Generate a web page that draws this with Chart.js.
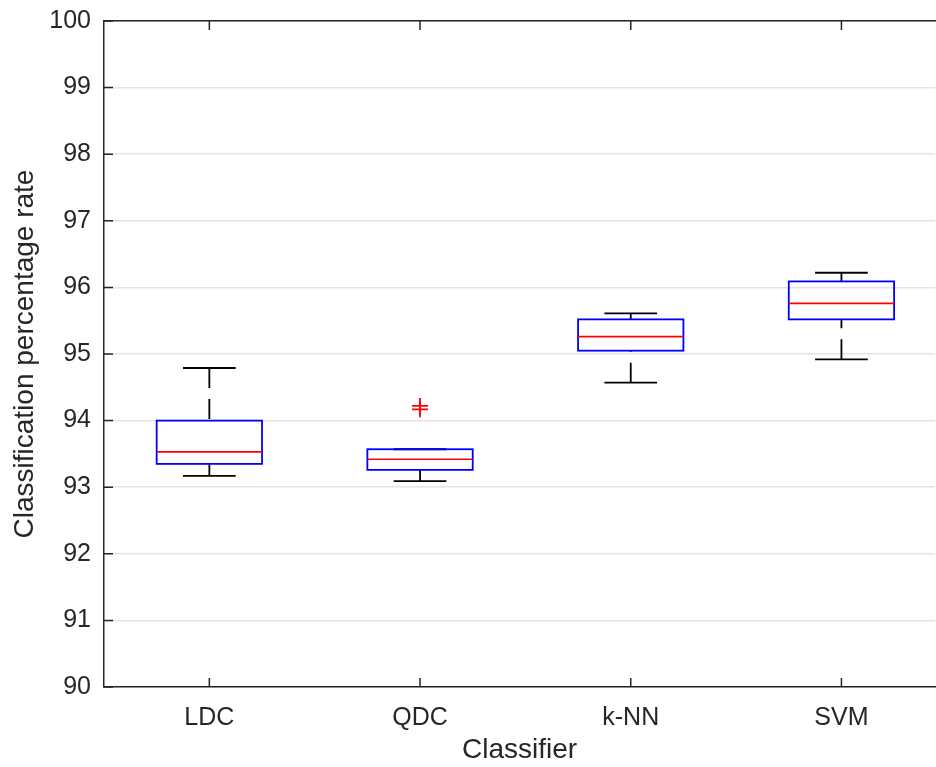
<!DOCTYPE html>
<html>
<head>
<meta charset="utf-8">
<script src="https://cdn.jsdelivr.net/npm/chart.js@4.4.0/dist/chart.umd.min.js"></script>
<style>
  html, body { margin: 0; padding: 0; background: #fff; overflow: hidden; }
  body { width: 936px; height: 767px; position: relative; }
  /* lienzo algo mayor que la ventana: el eje derecho queda fuera, como en la figura */
  #wrap { width: 945px; height: 774px; position: absolute; left: 0; top: -7px; }
</style>
</head>
<body>
<div id="wrap"><canvas id="boxStats"></canvas></div>
<script>
const categorias = ['LDC', 'QDC', 'k-NN', 'SVM'];
const bigoteBajo = [93.17, 93.09, 94.57, 94.92];
const cuartil1 = [93.35, 93.26, 95.05, 95.52];
const mediana = [93.53, 93.42, 95.26, 95.76];
const cuartil3 = [94.00, 93.57, 95.52, 96.09];
const bigoteAlto = [94.79, 93.57, 95.61, 96.22];
const atipicosX = [2, 2];
const atipicosY = [94.22, 94.17];
const ticksY = [90, 91, 92, 93, 94, 95, 96, 97, 98, 99, 100];

const ejeColor = '#262626';

// dibuja cajas, medianas, bigotes y marcas de eje hacia dentro
const cajasPlugin = {
    id: 'cajas',
    beforeDatasetsDraw(chart) {
        const { ctx, scales: { x, y } } = chart;
        ctx.save();
        categorias.forEach((c, i) => {
            const cx = x.getPixelForValue(i + 1);
            const half = x.getPixelForValue(i + 1.25) - cx;
            const capHalf = x.getPixelForValue(i + 1.125) - cx;
            const yq1 = y.getPixelForValue(cuartil1[i]);
            const yq3 = y.getPixelForValue(cuartil3[i]);
            const ymed = y.getPixelForValue(mediana[i]);
            const ylo = y.getPixelForValue(bigoteBajo[i]);
            const yhi = y.getPixelForValue(bigoteAlto[i]);

            // bigotes (desde el tope hacia la caja)
            ctx.strokeStyle = '#000';
            ctx.lineWidth = 1.8;
            ctx.setLineDash([20, 11]);
            ctx.beginPath();
            ctx.moveTo(cx, yhi); ctx.lineTo(cx, yq3);
            ctx.stroke();
            ctx.beginPath();
            ctx.moveTo(cx, ylo); ctx.lineTo(cx, yq1);
            ctx.stroke();
            ctx.setLineDash([]);
            ctx.beginPath();
            ctx.moveTo(cx - capHalf, yhi); ctx.lineTo(cx + capHalf, yhi);
            ctx.moveTo(cx - capHalf, ylo); ctx.lineTo(cx + capHalf, ylo);
            ctx.stroke();

            // caja
            ctx.strokeStyle = '#0000ff';
            ctx.lineWidth = 1.8;
            ctx.strokeRect(cx - half, yq3, half * 2, yq1 - yq3);

            // mediana
            ctx.strokeStyle = '#ff0000';
            ctx.lineWidth = 1.7;
            ctx.beginPath();
            ctx.moveTo(cx - half, ymed); ctx.lineTo(cx + half, ymed);
            ctx.stroke();
        });
        ctx.restore();
    },
    afterDraw(chart) {
        const { ctx, chartArea: a, scales: { x, y } } = chart;
        ctx.save();
        ctx.strokeStyle = ejeColor;
        ctx.lineWidth = 1.5;
        ctx.beginPath();
        ticksY.forEach(v => {
            const py = y.getPixelForValue(v);
            ctx.moveTo(a.left, py); ctx.lineTo(a.left + 9, py);
        });
        categorias.forEach((c, i) => {
            const px = x.getPixelForValue(i + 1);
            ctx.moveTo(px, a.bottom); ctx.lineTo(px, a.bottom - 9);
            ctx.moveTo(px, a.top); ctx.lineTo(px, a.top + 9);
        });
        ctx.stroke();
        ctx.restore();
    }
};

const ctx = document.getElementById('boxStats').getContext('2d');

const grafica = new Chart(ctx, {
    type: 'scatter',
    data: {
        datasets: [{
            label: 'Atípicos',
            data: atipicosX.map((v, i) => ({ x: v, y: atipicosY[i] })),
            pointStyle: 'cross',
            radius: 8,
            borderColor: '#ff0000',
            borderWidth: 1.8,
            backgroundColor: '#ff0000'
        }]
    },
    options: {
        responsive: true,
        maintainAspectRatio: false,
        animation: false,
        layout: { padding: 0 },
        plugins: {
            legend: { display: false },
            tooltip: { enabled: false }
        },
        scales: {
            x: {
                type: 'linear',
                position: 'bottom',
                min: 0.5,
                max: 4.445,
                afterBuildTicks: s => { s.ticks = categorias.map((c, i) => ({ value: i + 1 })); },
                afterFit: s => { s.height = 80; },
                ticks: {
                    callback: v => categorias[v - 1],
                    color: ejeColor,
                    font: { family: 'Liberation Sans', size: 25 },
                    padding: 16,
                    maxRotation: 0
                },
                grid: { display: false, drawTicks: false },
                border: { color: ejeColor, width: 1.5 },
                title: {
                    display: true,
                    text: 'Classifier',
                    color: ejeColor,
                    font: { family: 'Liberation Sans', size: 28 },
                    padding: { top: 0, bottom: 0 }
                }
            },
            x2: {
                type: 'linear',
                position: 'top',
                min: 0.5,
                max: 4.445,
                afterFit: s => { s.height = 20; },
                ticks: { display: false },
                grid: { display: false, drawTicks: false },
                border: { color: ejeColor, width: 1.5 }
            },
            y: {
                min: 90,
                max: 100,
                afterBuildTicks: s => { s.ticks = ticksY.map(v => ({ value: v })); },
                afterFit: s => { s.width = 104; },
                ticks: {
                    color: ejeColor,
                    font: { family: 'Liberation Sans', size: 25 },
                    padding: 13
                },
                grid: { color: '#e3e3e3', lineWidth: 1.5, drawTicks: false },
                border: { color: ejeColor, width: 1.5 },
                title: {
                    display: true,
                    text: 'Classification percentage rate',
                    color: ejeColor,
                    font: { family: 'Liberation Sans', size: 28 },
                    padding: { top: 8, bottom: 0 }
                }
            }
        }
    },
    plugins: [cajasPlugin]
});
</script>
</body>
</html>
